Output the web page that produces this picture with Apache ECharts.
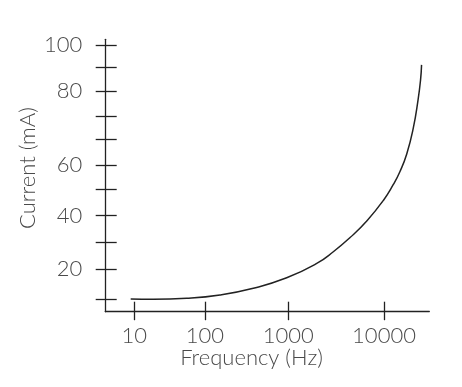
<!DOCTYPE html>
<html><head><meta charset="utf-8">
<script src="https://cdn.jsdelivr.net/npm/echarts@6/dist/echarts.min.js"></script>
<style>html,body{margin:0;padding:0;background:#fff}#c{width:462px;height:387px}</style>
</head><body><div id="c"></div>
<script>
// x: drawn log-frequency position in decades (10 Hz = 1, 10000 Hz = 4, as drawn on the figure)
// y: drawn position in tick units (bottom tick = 0, top tick = 100)
const freqTickPos = [1, 1.849, 2.85, 4.0];
const freqTickLabels = ['10', '100', '1000', '10000'];
const currentTickPos = [0, 11.9, 22.4, 32.9, 43.3, 52.7, 62.9, 71.8, 81.9, 91.1, 100];
const currentLabelPos = [11.9, 32.9, 52.7, 81.9, 100];
const currentLabels = ['20', '40', '60', '80', '100'];
const curveX = [0.957, 1.228, 1.630, 2.030, 2.430, 2.831, 3.192, 3.391, 3.592, 3.793, 3.992, 4.112, 4.192, 4.273, 4.352, 4.409, 4.439, 4.451];
const curveY = [0.12, 0.0, 0.39, 1.69, 4.33, 8.45, 14.08, 18.68, 24.26, 30.79, 38.85, 45.14, 50.25, 57.14, 67.36, 78.38, 86.24, 92.14];

const axisColor = '#222';
const textColor = '#4a4a4a';
const font = 'Lato, "DejaVu Sans", sans-serif';
function lookup(v, pos, labels) {
  for (let i = 0; i < pos.length; i++) if (Math.abs(pos[i] - v) < 1e-6) return labels[i];
  return '';
}
const xMin = 0.652, xMax = 4.544, yMin = -4.88, yMax = 102.2;
const chart = echarts.init(document.getElementById('c'), null, {renderer: 'canvas'});
chart.setOption({
  animation: false,
  backgroundColor: '#fff',
  grid: {left: 105.3, right: 32.7, top: 39.3, bottom: 75.3, outerBoundsMode: 'none', containLabel: false},
  xAxis: [
    {type: 'value', position: 'bottom', min: xMin, max: xMax,
     axisLine: {onZero: false, lineStyle: {color: axisColor, width: 1.3}},
     axisTick: {customValues: freqTickPos, length: 8.5, lineStyle: {color: axisColor, width: 1.3}},
     axisLabel: {customValues: freqTickPos, margin: 13, color: textColor, fontSize: 22, fontWeight: 300, fontFamily: font,
       formatter: v => lookup(v, freqTickPos, freqTickLabels)},
     splitLine: {show: false}},
    {type: 'value', position: 'bottom', min: xMin, max: xMax,
     axisLine: {show: false, onZero: false},
     axisTick: {customValues: freqTickPos, inside: true, length: 10, lineStyle: {color: axisColor, width: 1.3}},
     axisLabel: {show: false}, splitLine: {show: false}}
  ],
  yAxis: [
    {type: 'value', position: 'left', min: yMin, max: yMax,
     axisLine: {show: true, onZero: false, lineStyle: {color: axisColor, width: 1.3}},
     axisTick: {show: true, customValues: currentTickPos, length: 9.6, lineStyle: {color: axisColor, width: 1.3}},
     axisLabel: {customValues: currentLabelPos, margin: 23, color: textColor, fontSize: 22, fontWeight: 300, fontFamily: font,
       formatter: v => lookup(v, currentLabelPos, currentLabels)},
     splitLine: {show: false}},
    {type: 'value', position: 'left', min: yMin, max: yMax,
     axisLine: {show: false, onZero: false},
     axisTick: {show: true, customValues: currentTickPos, inside: true, length: 11.4, lineStyle: {color: axisColor, width: 1.3}},
     axisLabel: {show: false}, splitLine: {show: false}}
  ],
  graphic: [
    {type: 'text', x: 251.5, y: 347, style: {text: 'Frequency (Hz)', fill: textColor, font: '300 22px ' + font, textAlign: 'center', textVerticalAlign: 'top'}},
    {type: 'text', x: 28, y: 168, rotation: Math.PI / 2, style: {text: 'Current (mA)', fill: textColor, font: '300 22px ' + font, textAlign: 'center', textVerticalAlign: 'middle'}}
  ],
  series: [{
    type: 'line', xAxisIndex: 0, yAxisIndex: 0,
    data: curveX.map((x, i) => [x, curveY[i]]),
    smooth: 0.5, showSymbol: false, symbol: 'none',
    lineStyle: {color: '#222', width: 1.5}
  }]
});
</script>
</body></html>
